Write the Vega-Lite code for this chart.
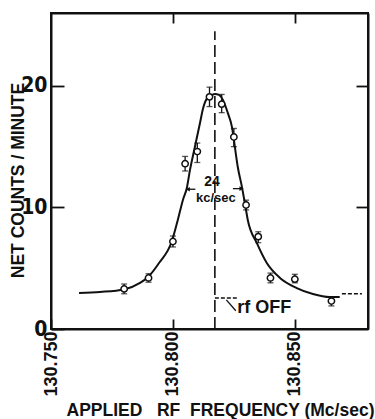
{
  "$schema": "https://vega.github.io/schema/vega-lite/v6.json",
  "autosize": "none",
  "width": 317,
  "height": 316,
  "padding": {"left": 51, "top": 13, "right": 7, "bottom": 90},
  "background": "white",
  "config": {
    "view": {"stroke": "#111", "strokeWidth": 2},
    "axis": {"grid": false, "domainColor": "#111", "domainWidth": 2, "tickColor": "#111", "tickWidth": 1.8, "labelColor": "#111", "titleColor": "#111"}
  },
  "datasets": {
    "points": [
      {"f": 130.780, "c": 3.3, "lo": 2.9, "hi": 3.7},
      {"f": 130.790, "c": 4.2, "lo": 3.85, "hi": 4.55},
      {"f": 130.800, "c": 7.2, "lo": 6.75, "hi": 7.65},
      {"f": 130.805, "c": 13.6, "lo": 13.0, "hi": 14.2},
      {"f": 130.810, "c": 14.6, "lo": 13.7, "hi": 15.3},
      {"f": 130.815, "c": 19.1, "lo": 18.3, "hi": 19.9},
      {"f": 130.820, "c": 18.5, "lo": 17.8, "hi": 19.3},
      {"f": 130.825, "c": 15.8, "lo": 15.0, "hi": 16.5},
      {"f": 130.830, "c": 10.2, "lo": 9.8, "hi": 10.6},
      {"f": 130.835, "c": 7.6, "lo": 7.1, "hi": 8.0},
      {"f": 130.840, "c": 4.2, "lo": 3.8, "hi": 4.6},
      {"f": 130.850, "c": 4.1, "lo": 3.8, "hi": 4.5},
      {"f": 130.865, "c": 2.3, "lo": 1.9, "hi": 2.6}
    ],
    "curve": [
      {"f": 130.7615, "c": 2.96},
      {"f": 130.7701, "c": 3.05},
      {"f": 130.7799, "c": 3.25},
      {"f": 130.7865, "c": 3.79},
      {"f": 130.7898, "c": 4.28},
      {"f": 130.7943, "c": 5.43},
      {"f": 130.7996, "c": 7.24},
      {"f": 130.8020, "c": 8.97},
      {"f": 130.8041, "c": 10.62},
      {"f": 130.8057, "c": 11.6},
      {"f": 130.8070, "c": 13.09},
      {"f": 130.8090, "c": 14.98},
      {"f": 130.8111, "c": 16.95},
      {"f": 130.8123, "c": 18.1},
      {"f": 130.8139, "c": 18.95},
      {"f": 130.8160, "c": 19.26},
      {"f": 130.8172, "c": 19.34},
      {"f": 130.8189, "c": 19.26},
      {"f": 130.8205, "c": 18.85},
      {"f": 130.8225, "c": 17.78},
      {"f": 130.8242, "c": 16.63},
      {"f": 130.8254, "c": 14.98},
      {"f": 130.8266, "c": 13.33},
      {"f": 130.8283, "c": 11.69},
      {"f": 130.8295, "c": 10.37},
      {"f": 130.8307, "c": 8.97},
      {"f": 130.8344, "c": 7.08},
      {"f": 130.8385, "c": 5.43},
      {"f": 130.8439, "c": 4.2},
      {"f": 130.8508, "c": 3.37},
      {"f": 130.8574, "c": 2.88},
      {"f": 130.8643, "c": 2.63},
      {"f": 130.8684, "c": 2.63}
    ],
    "segments": [
      {"kind": "center", "f": 130.8172, "c": 0, "f2": 130.8172, "c2": 24.5},
      {"kind": "off", "f": 130.8172, "c": 2.55, "f2": 130.8262, "c2": 2.55},
      {"kind": "off2", "f": 130.8693, "c": 2.9, "f2": 130.8775, "c2": 2.9},
      {"kind": "leader", "f": 130.8219, "c": 2.4, "f2": 130.8258, "c2": 1.5},
      {"kind": "arrow", "f": 130.8060, "c": 11.5, "f2": 130.8092, "c2": 11.5},
      {"kind": "arrow", "f": 130.8246, "c": 11.55, "f2": 130.8282, "c2": 11.55}
    ],
    "heads": [
      {"f": 130.8061, "c": 11.5, "shape": "triangle-left"},
      {"f": 130.8281, "c": 11.55, "shape": "triangle-right"}
    ],
    "notes": [
      {"f": 130.8160, "c": 12.1, "t": "24", "k": "big"},
      {"f": 130.8176, "c": 10.8, "t": "kc/sec", "k": "small"},
      {"f": 130.8264, "c": 1.69, "t": "rf OFF", "k": "off"}
    ]
  },
  "resolve": {"axis": {"x": "independent", "y": "independent"}},
  "layer": [
    {
      "data": {"name": "curve"},
      "mark": {"type": "line", "color": "#111", "strokeWidth": 2, "interpolate": "monotone"},
      "encoding": {
        "x": {"field": "f", "type": "quantitative",
              "scale": {"domain": [130.75, 130.88], "nice": false, "zero": false},
              "axis": {"orient": "bottom", "values": [130.75, 130.8, 130.85], "format": ".3f",
                       "tickSize": -10, "labelAngle": -90, "labelAlign": "right", "labelBaseline": "middle",
                       "labelPadding": 12, "labelFont": "Liberation Sans, sans-serif",
                       "labelFontSize": 18, "labelFontWeight": "bold", "labelFlush": false,
                       "title": "APPLIED\u00a0\u00a0 RF\u00a0 FREQUENCY (Mc/sec)", "titleFont": "Liberation Sans, sans-serif",
                       "titleFontWeight": "bold", "titleFontSize": 17.5, "titleAlign": "center",
                       "titleBaseline": "alphabetic", "titleX": 169, "titleY": 86}},
        "y": {"field": "c", "type": "quantitative",
              "scale": {"domain": [0, 26], "nice": false},
              "axis": {"orient": "left", "values": [0, 10, 20], "tickSize": -13,
                       "labelPadding": 17, "labelFont": "Liberation Sans Narrow, DejaVu Sans Condensed, sans-serif",
                       "labelFontSize": 21, "labelFontWeight": "bold", "labelFlush": false,
                       "title": "NET COUNTS / MINUTE", "titleFont": "Liberation Sans, sans-serif",
                       "titleFontWeight": "bold", "titleFontSize": 17.5, "titleAngle": -90,
                       "titleAlign": "center", "titleBaseline": "middle", "titleX": -33, "titleY": 167}}
      }
    },
    {
      "data": {"name": "points"},
      "mark": {"type": "rule", "color": "#111", "strokeWidth": 1.3},
      "encoding": {
        "x": {"field": "f", "type": "quantitative",
              "axis": {"orient": "top", "values": [130.8, 130.85], "tickSize": -10, "labels": false, "title": null}},
        "y": {"field": "lo", "type": "quantitative",
              "axis": {"orient": "right", "values": [10, 20], "tickSize": -12, "labels": false, "title": null}},
        "y2": {"field": "hi"}
      }
    },
    {
      "data": {"name": "points"},
      "mark": {"type": "tick", "orient": "horizontal", "color": "#111", "size": 6, "thickness": 1.3},
      "encoding": {
        "x": {"field": "f", "type": "quantitative", "axis": null},
        "y": {"field": "lo", "type": "quantitative", "axis": null}
      }
    },
    {
      "data": {"name": "points"},
      "mark": {"type": "tick", "orient": "horizontal", "color": "#111", "size": 6, "thickness": 1.3},
      "encoding": {
        "x": {"field": "f", "type": "quantitative", "axis": null},
        "y": {"field": "hi", "type": "quantitative", "axis": null}
      }
    },
    {
      "data": {"name": "points"},
      "mark": {"type": "point", "shape": "circle", "filled": false, "fill": "white", "fillOpacity": 1, "stroke": "#111", "strokeWidth": 1.5, "size": 40, "opacity": 1},
      "encoding": {
        "x": {"field": "f", "type": "quantitative", "axis": null},
        "y": {"field": "c", "type": "quantitative", "axis": null}
      }
    },
    {
      "data": {"name": "segments"},
      "transform": [{"filter": "datum.kind === 'center'"}],
      "mark": {"type": "rule", "color": "#111", "strokeWidth": 1.6, "strokeDash": [12, 5]},
      "encoding": {
        "x": {"field": "f", "type": "quantitative", "axis": null},
        "y": {"field": "c", "type": "quantitative", "axis": null},
        "x2": {"field": "f2"},
        "y2": {"field": "c2"}
      }
    },
    {
      "data": {"name": "segments"},
      "transform": [{"filter": "datum.kind === 'off' || datum.kind === 'off2'"}],
      "mark": {"type": "rule", "color": "#111", "strokeWidth": 1.3, "strokeDash": [4, 2]},
      "encoding": {
        "x": {"field": "f", "type": "quantitative", "axis": null},
        "y": {"field": "c", "type": "quantitative", "axis": null},
        "x2": {"field": "f2"},
        "y2": {"field": "c2"}
      }
    },
    {
      "data": {"name": "segments"},
      "transform": [{"filter": "datum.kind === 'leader' || datum.kind === 'arrow'"}],
      "mark": {"type": "rule", "color": "#111", "strokeWidth": 1.3},
      "encoding": {
        "x": {"field": "f", "type": "quantitative", "axis": null},
        "y": {"field": "c", "type": "quantitative", "axis": null},
        "x2": {"field": "f2"},
        "y2": {"field": "c2"}
      }
    },
    {
      "data": {"name": "heads"},
      "mark": {"type": "point", "filled": true, "color": "#111", "size": 22, "opacity": 1},
      "encoding": {
        "x": {"field": "f", "type": "quantitative", "axis": null},
        "y": {"field": "c", "type": "quantitative", "axis": null},
        "shape": {"field": "shape", "type": "nominal", "scale": null, "legend": null}
      }
    },
    {
      "data": {"name": "notes"},
      "transform": [{"filter": "datum.k === 'big'"}],
      "mark": {"type": "text", "font": "Liberation Sans, sans-serif", "fontWeight": "bold", "fontSize": 14, "color": "#111", "align": "center", "baseline": "middle"},
      "encoding": {
        "x": {"field": "f", "type": "quantitative", "axis": null},
        "y": {"field": "c", "type": "quantitative", "axis": null},
        "text": {"field": "t"}
      }
    },
    {
      "data": {"name": "notes"},
      "transform": [{"filter": "datum.k === 'small'"}],
      "mark": {"type": "text", "font": "Liberation Sans, sans-serif", "fontWeight": "bold", "fontSize": 13, "color": "#111", "align": "center", "baseline": "middle"},
      "encoding": {
        "x": {"field": "f", "type": "quantitative", "axis": null},
        "y": {"field": "c", "type": "quantitative", "axis": null},
        "text": {"field": "t"}
      }
    },
    {
      "data": {"name": "notes"},
      "transform": [{"filter": "datum.k === 'off'"}],
      "mark": {"type": "text", "font": "Liberation Sans, sans-serif", "fontWeight": "bold", "fontSize": 18, "color": "#111", "align": "left", "baseline": "middle"},
      "encoding": {
        "x": {"field": "f", "type": "quantitative", "axis": null},
        "y": {"field": "c", "type": "quantitative", "axis": null},
        "text": {"field": "t"}
      }
    }
  ]
}
